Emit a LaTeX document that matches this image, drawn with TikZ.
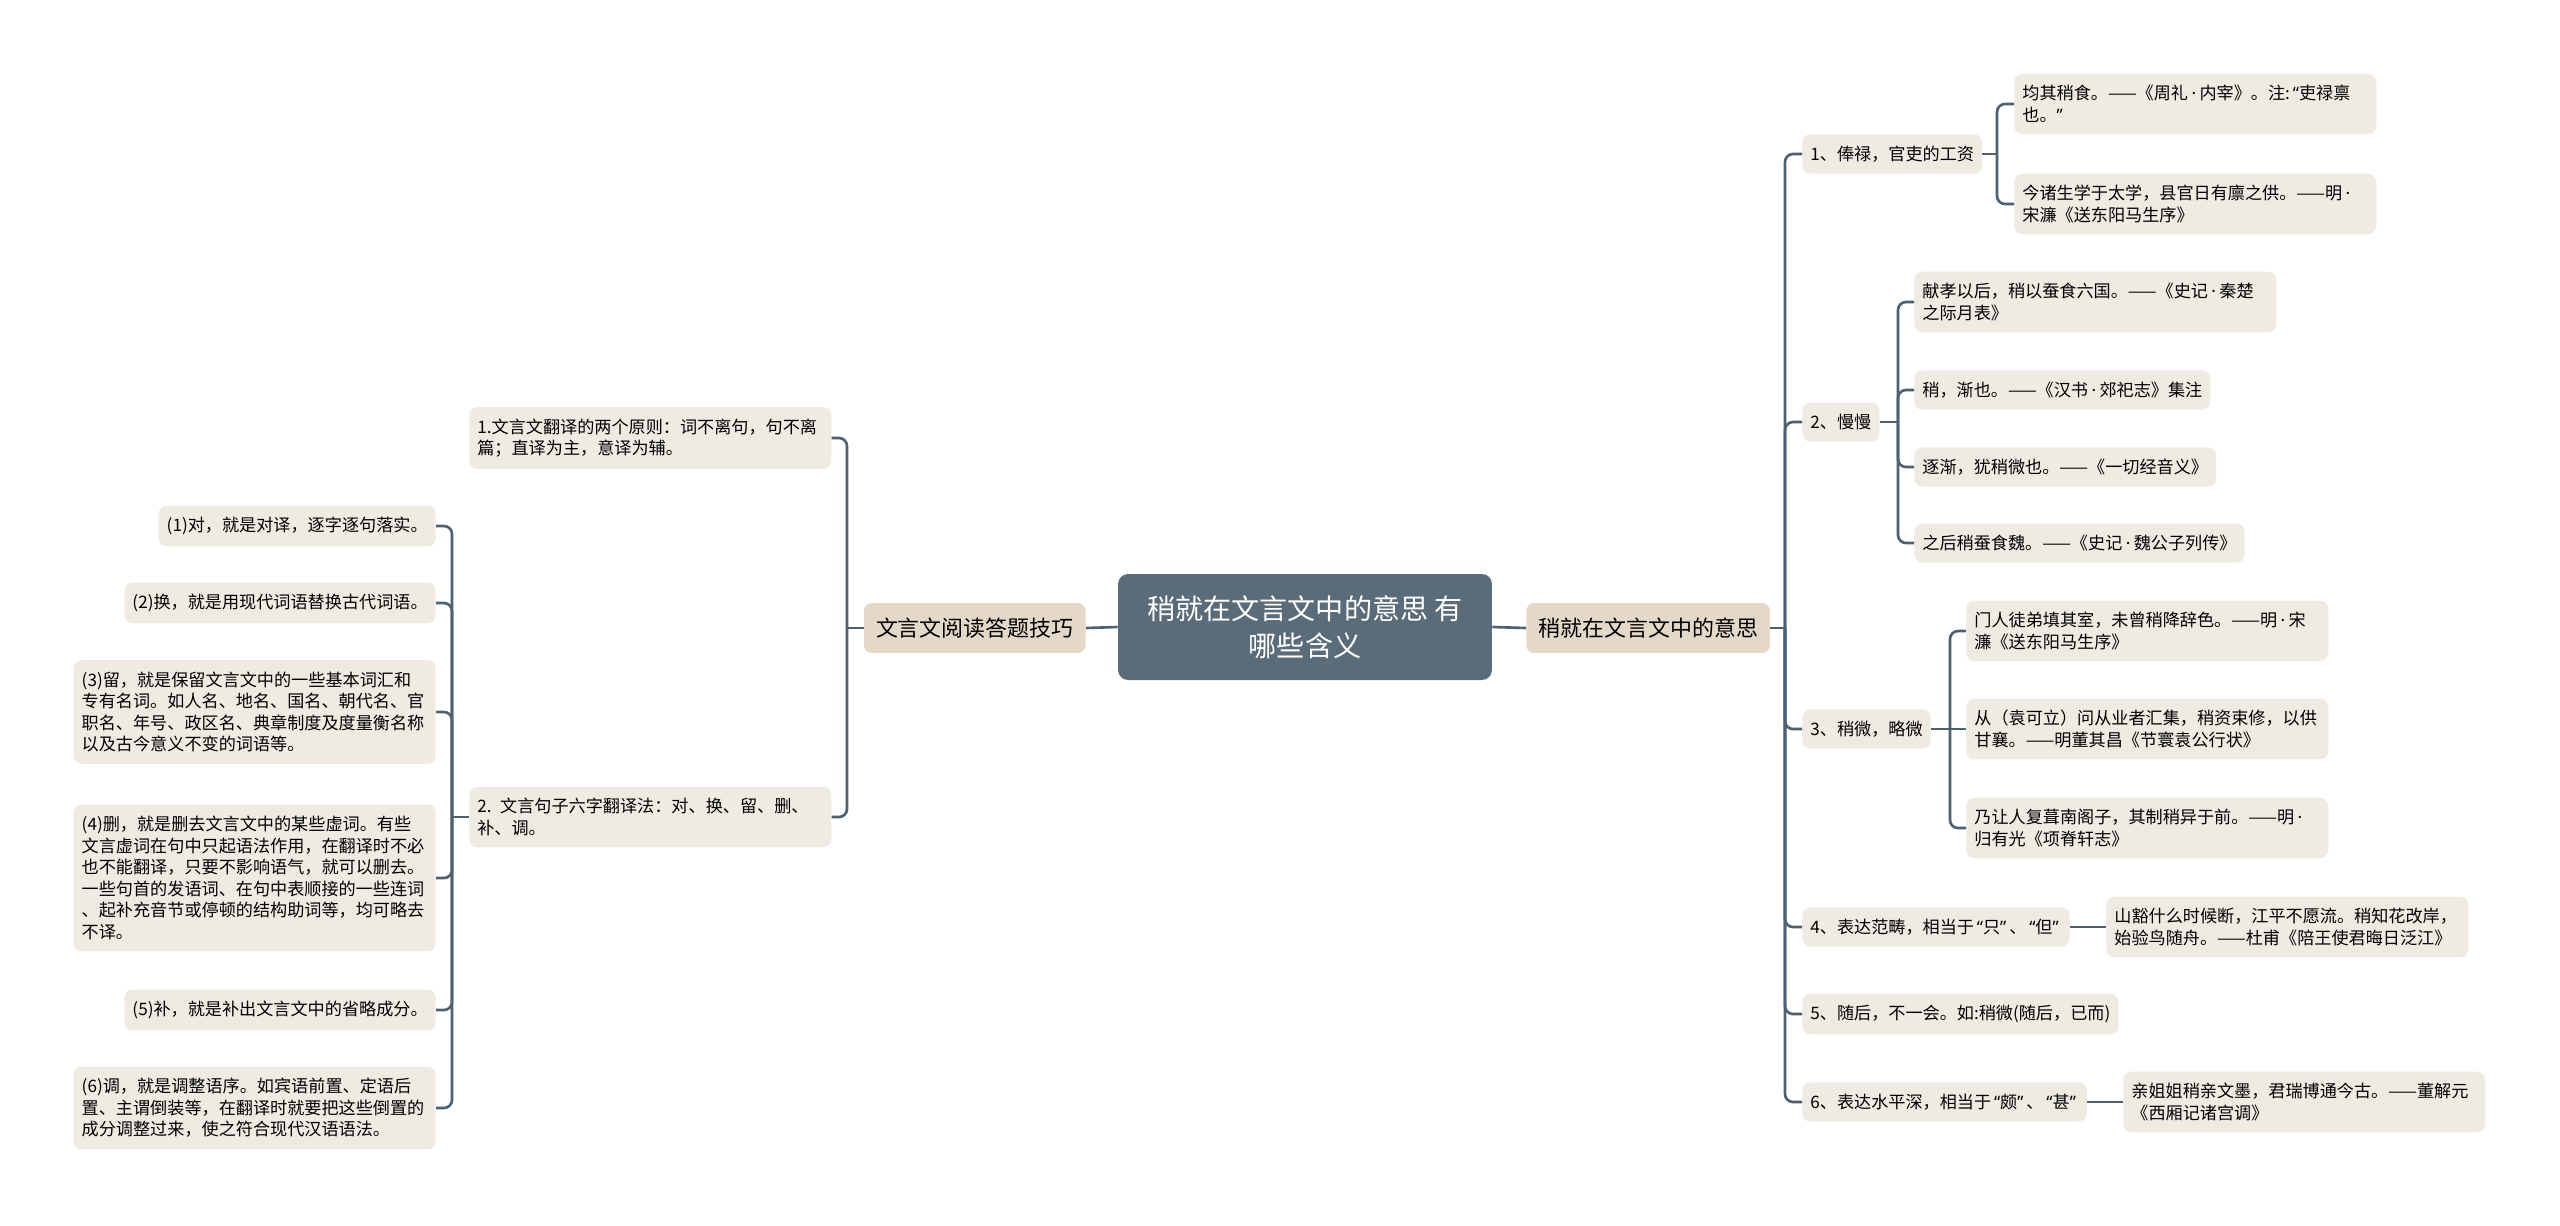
\documentclass[tikz,border=0pt]{standalone}
\usepackage{fontspec}
\setmainfont{Noto Sans CJK SC}
\newfontfamily\latinq{Noto Sans}
\usepackage{xcolor}
\usetikzlibrary{positioning}
\definecolor{mSlate}{HTML}{5A6C79}
\definecolor{mLine}{HTML}{4E6170}
\definecolor{mTan}{HTML}{E4D9C9}
\definecolor{mPaper}{HTML}{EFEBE3}
\newcommand\zhql{{\latinq\kern0.17em“}}
\newcommand\zhqr{{\latinq”\kern0.17em}}
\newcommand\zhdot{{\latinq\kern0.2em·\kern0.2em}}

\begin{document}
\begin{tikzpicture}[x=0.02cm, y=-0.02cm,
    root/.style={fill=mSlate, text=white, rounded corners=0.2cm, inner sep=0pt,
        minimum width=7.48cm, minimum height=2.12cm, align=center,
        font=\fontsize{16}{21}\selectfont},
    topic/.style={fill=mTan, rounded corners=0.16cm, inner xsep=0.24cm, inner ysep=0pt,
        minimum height=1cm, font=\fontsize{12.5}{15}\selectfont},
    item/.style={fill=mPaper, rounded corners=0.16cm, inner xsep=0.16cm, inner ysep=0.23cm,
        minimum height=0.78cm, font=\fontsize{9.75}{12.3}\selectfont},
    note/.style={item, text width=6.92cm, align=left},
    link/.style={draw=mLine, line width=1.5pt, rounded corners=0.16cm}]
    \fill[white] (0,0) rectangle (2560,1225);
    \useasboundingbox (0,0) rectangle (2560,1225);

    \node[root] (root) at (1305,627) {稍就在文言文中的意思 有\\哪些含义};
    \node[topic, anchor=east] (skill) at (1086,628) {文言文阅读答题技巧};
    \node[topic, anchor=west] (mean) at (1526,628) {稍就在文言文中的意思};
    \draw[link] (root.west) -- (skill.east);
    \draw[link] (root.east) -- (mean.west);

    % left side
    \node[note, anchor=west] (rule) at (469,438) {1.文言文翻译的两个原则：词不离句，句不离\\篇；直译为主，意译为辅。};
    \node[note, anchor=west] (six) at (469,817) {2. 文言句子六字翻译法：对、换、留、删、\\补、调。};
    \coordinate (jSkill) at (847,628);
    \draw[link] (skill.west) -- (jSkill);
    \draw[link] (rule.east) -| (jSkill);
    \draw[link] (six.east) -| (jSkill);

    \node[item, anchor=east] (dui) at (436,526) {(1)对，就是对译，逐字逐句落实。};
    \node[item, anchor=east] (huan) at (436,603) {(2)换，就是用现代词语替换古代词语。};
    \node[note, anchor=east] (liu) at (436,712) {(3)留，就是保留文言文中的一些基本词汇和\\专有名词。如人名、地名、国名、朝代名、官\\职名、年号、政区名、典章制度及度量衡名称\\以及古今意义不变的词语等。};
    \node[note, anchor=east] (shan) at (436,878) {(4)删，就是删去文言文中的某些虚词。有些\\文言虚词在句中只起语法作用，在翻译时不必\\也不能翻译，只要不影响语气，就可以删去。\\一些句首的发语词、在句中表顺接的一些连词\\、起补充音节或停顿的结构助词等，均可略去\\不译。};
    \node[item, anchor=east] (bu) at (436,1010) {(5)补，就是补出文言文中的省略成分。};
    \node[note, anchor=east] (tiao) at (436,1108) {(6)调，就是调整语序。如宾语前置、定语后\\置、主谓倒装等，在翻译时就要把这些倒置的\\成分调整过来，使之符合现代汉语语法。};
    \coordinate (jSix) at (452,817);
    \draw[link] (six.west) -- (jSix);
    \foreach \n in {dui,huan,liu,shan,bu,tiao}
        \draw[link] (\n.east) -| (jSix);

    % right side
    \coordinate (jMean) at (1785,628);
    \draw[link] (mean.east) -- (jMean);
    \node[item, anchor=west] (m1) at (1802,154) {1、俸禄，官吏的工资};
    \node[item, anchor=west] (m2) at (1802,422) {2、慢慢};
    \node[item, anchor=west] (m3) at (1802,729) {3、稍微，略微};
    \node[item, anchor=west] (m4) at (1802,927) {4、表达范畴，相当于\zhql 只\zhqr、\zhql 但\zhqr};
    \node[item, anchor=west] (m5) at (1802,1014) {5、随后，不一会。如:稍微(随后，已而)};
    \node[item, anchor=west] (m6) at (1802,1102) {6、表达水平深，相当于\zhql 颇\zhqr、\zhql 甚\zhqr};
    \foreach \n in {m1,m2,m3,m4,m5,m6}
        \draw[link] (\n.west) -| (jMean);

    \node[note, anchor=west] (a11) at (2014,104) {均其稍食。——《周礼\zhdot 内宰》。注:\zhql 吏禄禀\\也。\zhqr};
    \node[note, anchor=west] (a12) at (2014,204) {今诸生学于太学，县官日有廪之供。——明\zhdot\\宋濂《送东阳马生序》};
    \coordinate (jM1) at (1997,154);
    \draw[link] (m1.east) -- (jM1);
    \foreach \n in {a11,a12}
        \draw[link] (\n.west) -| (jM1);

    \node[note, anchor=west] (a21) at (1914,302) {献孝以后，稍以蚕食六国。——《史记\zhdot 秦楚\\之际月表》};
    \node[item, anchor=west] (a22) at (1914,390) {稍，渐也。——《汉书\zhdot 郊祀志》集注};
    \node[item, anchor=west] (a23) at (1914,467) {逐渐，犹稍微也。——《一切经音义》};
    \node[item, anchor=west] (a24) at (1914,543) {之后稍蚕食魏。——《史记\zhdot 魏公子列传》};
    \coordinate (jM2) at (1898,422);
    \draw[link] (m2.east) -- (jM2);
    \foreach \n in {a21,a22,a23,a24}
        \draw[link] (\n.west) -| (jM2);

    \node[note, anchor=west] (a31) at (1966,631) {门人徒弟填其室，未曾稍降辞色。——明\zhdot 宋\\濂《送东阳马生序》};
    \node[note, anchor=west] (a32) at (1966,729) {从（袁可立）问从业者汇集，稍资束修，以供\\甘襄。——明董其昌《节寰袁公行状》};
    \node[note, anchor=west] (a33) at (1966,828) {乃让人复葺南阁子，其制稍异于前。——明\zhdot\\归有光《项脊轩志》};
    \coordinate (jM3) at (1950,729);
    \draw[link] (m3.east) -- (a32.west);
    \foreach \n in {a31,a33}
        \draw[link] (\n.west) -| (jM3);

    \node[note, anchor=west] (a41) at (2106,927) {山豁什么时候断，江平不愿流。稍知花改岸，\\始验鸟随舟。——杜甫《陪王使君晦日泛江》};
    \draw[link] (m4.east) -- (a41.west);

    \node[note, anchor=west] (a61) at (2123,1102) {亲姐姐稍亲文墨，君瑞博通今古。——董解元\\《西厢记诸宫调》};
    \draw[link] (m6.east) -- (a61.west);
\end{tikzpicture}
\end{document}
